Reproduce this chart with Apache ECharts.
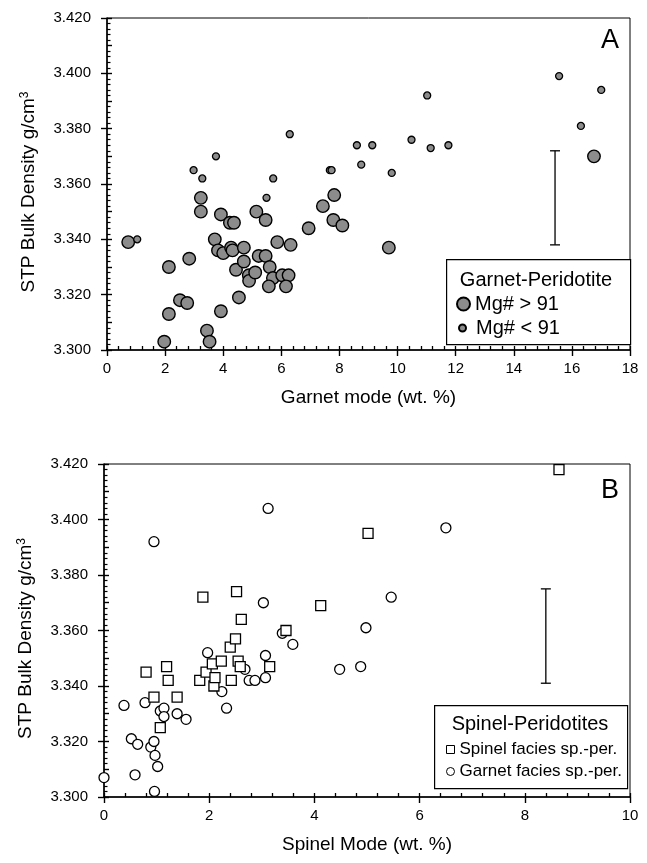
<!DOCTYPE html>
<html>
<head>
<meta charset="utf-8">
<script src="https://cdn.jsdelivr.net/npm/echarts@6/dist/echarts.min.js"></script>
<style>
  html, body { margin: 0; padding: 0; background: #fff; }
  #chart { width: 647px; height: 863px; }
</style>
</head>
<body>
<div id="chart"></div>
<script>
// Panel A: garnet peridotites, [garnet mode wt.%, STP bulk density g/cm3]
const mgHighPts = [
  [0.73,3.339],[1.97,3.303],[2.13,3.313],[2.13,3.330],[2.51,3.318],[2.76,3.317],[2.83,3.333],
  [3.23,3.355],[3.23,3.350],[3.44,3.307],[3.53,3.303],[3.71,3.340],[3.82,3.336],[3.92,3.349],
  [3.92,3.314],[4.00,3.335],[4.23,3.346],[4.37,3.346],[4.27,3.337],[4.32,3.336],[4.44,3.329],
  [4.54,3.319],[4.71,3.337],[4.71,3.332],[4.88,3.327],[4.89,3.325],[5.10,3.328],[5.14,3.350],
  [5.46,3.347],[5.22,3.334],[5.46,3.334],[5.60,3.330],[5.71,3.326],[5.57,3.323],[5.86,3.339],
  [6.03,3.327],[6.25,3.327],[6.16,3.323],[6.32,3.338],[6.94,3.344],[7.43,3.352],[7.82,3.356],
  [7.79,3.347],[8.10,3.345],[9.70,3.337],[16.76,3.370]
];
const mgLowPts = [
  [1.04,3.340],[2.98,3.365],[3.28,3.362],[3.75,3.370],[5.49,3.355],[5.72,3.362],[6.29,3.378],
  [7.67,3.365],[7.73,3.365],[8.60,3.374],[8.75,3.367],[9.13,3.374],[9.80,3.364],[10.48,3.376],
  [11.02,3.392],[11.14,3.373],[11.75,3.374],[15.56,3.399],[16.31,3.381],[17.01,3.394]
];
// typical uncertainty bar: [x, low, high]
const errorBarA = [[15.42, 3.338, 3.372]];

// Panel B: spinel peridotites, [spinel mode wt.%, STP bulk density g/cm3]
const spinelFaciesPts = [
  [0.80,3.345],[1.19,3.347],[1.22,3.342],[0.95,3.336],[1.39,3.336],[1.07,3.325],[1.82,3.342],
  [1.94,3.345],[2.06,3.348],[2.09,3.340],[2.11,3.343],[2.23,3.349],[2.40,3.354],[2.50,3.357],
  [2.42,3.342],[2.55,3.349],[2.59,3.347],[3.15,3.347],[3.46,3.360],[1.88,3.372],[2.52,3.374],
  [2.61,3.364],[4.12,3.369],[5.02,3.395],[8.65,3.418]
];
const garnetFaciesPts = [
  [0.00,3.307],[0.38,3.333],[0.52,3.321],[0.64,3.319],[0.59,3.308],[0.78,3.334],[0.89,3.318],
  [0.95,3.320],[0.97,3.315],[1.02,3.311],[0.96,3.302],[1.07,3.331],[1.14,3.332],[1.14,3.329],
  [1.39,3.330],[1.56,3.328],[1.97,3.352],[2.24,3.338],[2.33,3.332],[2.68,3.346],[2.76,3.342],
  [2.87,3.342],[3.07,3.351],[3.07,3.343],[3.39,3.359],[3.59,3.355],[4.48,3.346],[4.88,3.347],
  [4.98,3.361],[5.46,3.372],[6.50,3.397],[3.03,3.370],[3.12,3.404],[0.95,3.392]
];
const errorBarB = [[8.40, 3.341, 3.375]];

// axis ranges and labels
const yRange = { min: 3.300, max: 3.420, step: 0.020 };
const xRangeA = { min: 0, max: 18, step: 2 };
const xRangeB = { min: 0, max: 10, step: 2 };
const yTitle = 'STP Bulk Density g/cm{sup|3}';
const xTitleA = 'Garnet mode (wt. %)';
const xTitleB = 'Spinel Mode (wt. %)';
const legendTitleA = 'Garnet-Peridotite';
const legendTitleB = 'Spinel-Peridotites';
const panelLetters = ['A', 'B'];

const FONT = '"Liberation Sans", Arial, sans-serif';
const GRAY = '#8c8c8c';

const chart = echarts.init(document.getElementById('chart'), null, { renderer: 'canvas' });

// labelled axes: long ticks pointing outward
function mainX(range, gridIndex, title) {
  return {
    type: 'value', gridIndex, min: range.min, max: range.max, interval: range.step,
    name: title, nameLocation: 'middle', nameGap: 38,
    nameTextStyle: { color: '#000', fontSize: 19, fontFamily: FONT },
    axisLine: { show: true, lineStyle: { color: '#000', width: 1.5 } },
    axisTick: { show: true, inside: false, length: 6, lineStyle: { color: '#000', width: 1.4 } },
    axisLabel: { color: '#000', fontSize: 15, fontFamily: FONT, margin: 11 },
    splitLine: { show: false }
  };
}
// unlabelled companion axes: short minor ticks pointing into the plot
function minorX(range, gridIndex) {
  return {
    type: 'value', gridIndex, min: range.min, max: range.max, interval: 0.4, position: 'bottom',
    axisLine: { show: false }, axisLabel: { show: false }, splitLine: { show: false },
    axisTick: { show: true, inside: true, length: 4, lineStyle: { color: '#000', width: 1.3 } }
  };
}
function mainY(gridIndex) {
  return {
    type: 'value', gridIndex, min: yRange.min, max: yRange.max, interval: yRange.step,
    name: yTitle, nameLocation: 'middle', nameGap: 68, nameRotate: 90,
    nameTextStyle: {
      color: '#000', fontSize: 19, fontFamily: FONT, padding: [0, 16, 0, 0],
      rich: { sup: { fontSize: 12, fontFamily: FONT, color: '#000', verticalAlign: 'top', padding: [0, 0, 8, 0] } }
    },
    axisLine: { show: true, lineStyle: { color: '#000', width: 1.5 } },
    axisTick: { show: true, inside: false, length: 6, lineStyle: { color: '#000', width: 1.4 } },
    axisLabel: { color: '#000', fontSize: 15, fontFamily: FONT, margin: 16, formatter: v => v.toFixed(3) },
    splitLine: { show: false }
  };
}
function minorY(gridIndex) {
  return {
    type: 'value', gridIndex, min: yRange.min, max: yRange.max, interval: 0.01, position: 'left',
    axisLine: { show: false }, axisLabel: { show: false }, splitLine: { show: false },
    axisTick: { show: true, inside: true, length: 5, lineStyle: { color: '#000', width: 1.4 } },
    minorTick: { show: true, splitNumber: 5, length: 3.5, lineStyle: { color: '#000', width: 1.2 } }
  };
}

function errorBarSeries(data, xAxisIndex, yAxisIndex) {
  return {
    type: 'custom', xAxisIndex, yAxisIndex, data, silent: true, z: 3,
    encode: { x: 0, y: [1, 2] },
    renderItem(params, api) {
      const x = api.value(0);
      const top = api.coord([x, api.value(2)]);
      const bot = api.coord([x, api.value(1)]);
      const cap = 5;
      const style = { stroke: '#000', lineWidth: 1.3 };
      return {
        type: 'group',
        children: [
          { type: 'line', shape: { x1: top[0], y1: top[1], x2: bot[0], y2: bot[1] }, style },
          { type: 'line', shape: { x1: top[0] - cap, y1: top[1], x2: top[0] + cap, y2: top[1] }, style },
          { type: 'line', shape: { x1: bot[0] - cap, y1: bot[1], x2: bot[0] + cap, y2: bot[1] }, style }
        ]
      };
    }
  };
}

const legendText = (size) => ({ color: '#000', fontSize: size, fontFamily: FONT });

const option = {
  backgroundColor: '#fff',
  animation: false,
  grid: [
    { left: 107, right: 17, top: 18, bottom: 513, show: true, borderColor: '#000', borderWidth: 1, containLabel: false },
    { left: 104, right: 17, top: 464, bottom: 66, show: true, borderColor: '#000', borderWidth: 1, containLabel: false }
  ],
  xAxis: [mainX(xRangeA, 0, xTitleA), minorX(xRangeA, 0), mainX(xRangeB, 1, xTitleB), minorX(xRangeB, 1)],
  yAxis: [mainY(0), minorY(0), mainY(1), minorY(1)],
  legend: [
    { data: ['Mg# > 91'], left: 456, top: 294, itemWidth: 13, itemHeight: 13, padding: 0, z: 20,
      textStyle: legendText(20), selectedMode: false },
    { data: ['Mg# < 91'], left: 458, top: 318, itemWidth: 7, itemHeight: 7, padding: 0, z: 20,
      textStyle: Object.assign(legendText(20), { padding: [0, 0, 0, 5] }), selectedMode: false },
    { data: ['Spinel facies sp.-per.'], left: 446, top: 741, itemWidth: 8, itemHeight: 8, padding: 0, z: 20,
      itemStyle: { borderWidth: 1 }, textStyle: legendText(17), selectedMode: false },
    { data: ['Garnet facies sp.-per.'], left: 446, top: 763, itemWidth: 8, itemHeight: 8, padding: 0, z: 20,
      itemStyle: { borderWidth: 1 }, textStyle: legendText(17), selectedMode: false }
  ],
  graphic: [
    { type: 'rect', left: 446, top: 259, shape: { width: 184, height: 85 }, z: 10,
      style: { fill: '#fff', stroke: '#000', lineWidth: 1.2 } },
    { type: 'text', x: 536, y: 280, z: 11,
      style: { text: legendTitleA, fill: '#000', font: '20px ' + FONT, align: 'center', verticalAlign: 'middle' } },
    { type: 'rect', left: 434, top: 705, shape: { width: 193, height: 83 }, z: 10,
      style: { fill: '#fff', stroke: '#000', lineWidth: 1.2 } },
    { type: 'text', x: 530, y: 724, z: 11,
      style: { text: legendTitleB, fill: '#000', font: '20px ' + FONT, align: 'center', verticalAlign: 'middle' } },
    { type: 'text', x: 610, y: 41, z: 11,
      style: { text: panelLetters[0], fill: '#000', font: '27px ' + FONT, align: 'center', verticalAlign: 'middle' } },
    { type: 'text', x: 610, y: 491, z: 11,
      style: { text: panelLetters[1], fill: '#000', font: '27px ' + FONT, align: 'center', verticalAlign: 'middle' } }
  ],
  series: [
    { name: 'Mg# > 91', type: 'scatter', xAxisIndex: 0, yAxisIndex: 0, data: mgHighPts,
      symbol: 'circle', symbolSize: 12.5, z: 4,
      itemStyle: { color: GRAY, borderColor: '#000', borderWidth: 1.4, opacity: 1 } },
    { name: 'Mg# < 91', type: 'scatter', xAxisIndex: 0, yAxisIndex: 0, data: mgLowPts,
      symbol: 'circle', symbolSize: 7, z: 4,
      itemStyle: { color: GRAY, borderColor: '#000', borderWidth: 1.3, opacity: 1 } },
    errorBarSeries(errorBarA, 0, 0),
    { name: 'Garnet facies sp.-per.', type: 'scatter', xAxisIndex: 2, yAxisIndex: 2, data: garnetFaciesPts,
      symbol: 'circle', symbolSize: 10, z: 4,
      itemStyle: { color: '#fff', borderColor: '#000', borderWidth: 1.3, opacity: 1 } },
    { name: 'Spinel facies sp.-per.', type: 'scatter', xAxisIndex: 2, yAxisIndex: 2, data: spinelFaciesPts,
      symbol: 'rect', symbolSize: 10, z: 5,
      itemStyle: { color: '#fff', borderColor: '#000', borderWidth: 1.3, opacity: 1 } },
    errorBarSeries(errorBarB, 2, 2)
  ]
};

chart.setOption(option);
</script>
</body>
</html>
